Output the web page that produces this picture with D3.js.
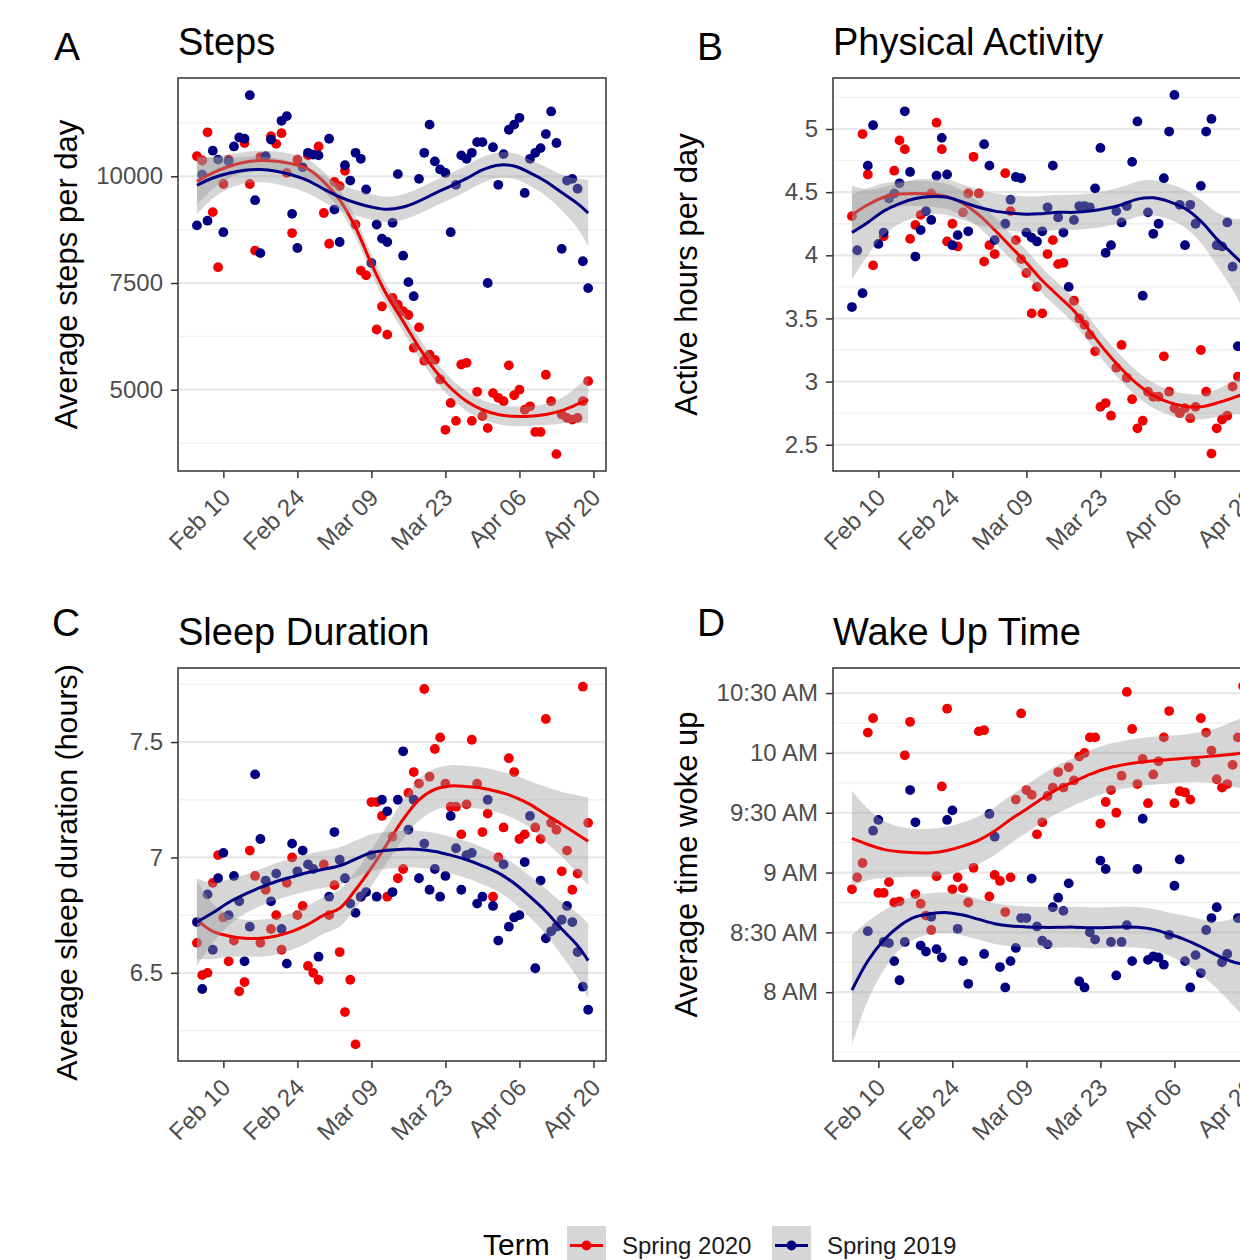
<!DOCTYPE html>
<html>
<head>
<meta charset="utf-8">
<script src="https://cdn.jsdelivr.net/npm/d3@7"></script>
<style>
  body { margin:0; background:#fff; overflow:hidden; }
  text { font-family: "Liberation Sans", Arial, Helvetica, sans-serif; }
</style>
</head>
<body>
<script>
// one value per day, day 0 = Feb 5 2020 ... day 74 = Apr 19 2020 (null = no point visible)
var firstDay = "2020-02-05";
var tickDates = ["2020-02-10","2020-02-24","2020-03-09","2020-03-23","2020-04-06","2020-04-20"];
var terms = ["Spring 2020", "Spring 2019"];

var stepsRed = [10470,10370,11030,9160,7870,9820,10390,null,null,10780,
  9820,8260,10450,null,10940,10760,11010,10080,8670,10390,
  null,10490,null,10700,9140,8420,9870,9770,10130,null,
  8870,7790,7680,null,6410,6950,6290,7150,6990,6840,
  6750,5980,6460,5680,5820,5700,5240,4060,4690,4270,
  5590,5630,4270,4950,4380,4100,4920,4810,4730,5570,
  4870,5000,4530,4610,4010,4010,5350,4730,3490,4420,
  4340,4300,4340,4730,5200];
var stepsBlue = [8850,10040,8960,10600,10390,8690,10350,10700,10910,10880,
  11900,9440,8200,10470,10860,null,11300,11410,9120,8320,
  10210,10550,10510,10490,null,10880,9220,8460,10260,9900,
  10550,10410,9690,7970,8870,8540,8460,8910,10050,8140,
  7520,7190,9940,10550,11210,10350,10160,10080,8690,9800,
  10490,10410,10550,10800,10800,7500,10680,9800,10520,11090,
  11210,11370,9610,10410,10550,10660,10990,11520,10780,8300,
  9900,9940,9710,8010,7380];

var activeRed = [4.31,null,4.96,4.64,3.92,null,4.15,null,4.67,4.91,
  4.84,4.13,4.24,4.32,null,4.49,5.05,4.84,4.11,4.25,
  4.07,4.34,4.49,4.78,4.49,3.95,4.08,4.01,null,4.65,
  4.35,4.12,3.97,3.86,3.54,3.75,3.54,4.01,4.12,3.93,
  3.94,null,3.64,3.50,3.45,3.37,3.24,2.80,2.83,2.73,
  3.11,3.29,3.03,2.86,2.63,2.69,2.92,2.88,2.88,3.20,
  2.92,2.79,2.75,2.79,2.71,2.80,3.25,2.92,2.43,2.63,
  2.70,2.73,2.96,3.04,null];
var activeBlue = [3.59,4.04,3.70,4.71,5.03,4.09,4.18,4.45,4.49,4.57,
  5.14,4.66,3.99,4.20,4.35,4.28,4.63,4.93,4.64,4.08,
  4.16,null,4.19,null,null,4.88,4.71,4.12,null,4.25,
  4.44,4.62,4.61,4.18,4.14,4.11,4.19,4.38,4.71,4.30,
  4.18,3.75,4.28,4.39,4.39,4.38,4.53,4.85,4.02,4.08,
  4.35,4.26,4.39,4.74,5.06,3.68,4.34,4.17,4.25,4.61,
  4.98,5.27,4.40,4.08,4.40,4.25,4.55,4.98,5.08,4.08,
  4.07,4.26,3.91,3.28,null];

var sleepRed = [6.63,6.49,6.50,6.89,7.01,6.74,6.55,6.64,6.42,6.46,
  7.03,6.92,6.63,6.86,6.69,6.75,6.60,6.89,7.00,6.75,
  6.79,6.53,6.50,6.47,6.97,6.75,6.88,6.59,6.33,6.47,
  6.19,6.83,null,7.24,7.24,7.18,6.83,7.09,6.91,6.95,
  7.28,7.37,7.32,7.73,7.35,7.47,7.52,7.32,7.22,7.22,
  7.10,7.23,7.51,7.32,7.11,7.19,6.83,7.00,7.13,7.43,
  7.37,7.08,7.10,null,7.13,7.08,7.60,7.15,7.12,6.94,
  7.03,6.86,6.93,7.74,7.15];
var sleepBlue = [6.72,6.43,6.84,6.60,6.91,7.02,6.75,6.92,6.81,6.55,
  6.70,7.36,7.08,6.90,6.81,6.93,6.69,6.54,7.06,6.94,
  7.03,6.97,6.95,6.57,null,6.83,7.11,6.99,6.91,6.80,
  6.76,6.83,6.85,7.01,6.83,7.25,7.20,6.85,7.25,7.46,
  7.12,7.25,6.91,7.06,6.86,6.95,6.83,6.92,7.18,7.04,
  6.86,7.01,7.02,6.80,6.83,7.25,6.79,6.64,6.97,6.70,
  6.74,6.75,6.98,7.18,6.52,6.90,6.65,6.68,6.70,6.73,
  6.79,6.72,6.59,6.44,6.34];

// wake up time in hours (9.5 = 9:30 AM)
var wakeRed = [8.86,8.96,9.08,10.17,10.29,8.83,8.83,8.92,8.75,8.76,
  9.98,10.26,8.82,8.74,8.64,8.52,8.97,9.72,10.37,8.86,
  8.96,8.87,8.75,9.04,10.18,10.19,8.80,8.98,8.93,8.67,
  8.96,9.61,10.33,9.69,9.65,9.32,9.42,9.64,9.71,9.84,
  9.71,9.88,9.77,9.97,10.00,10.13,10.13,9.41,9.59,9.69,
  9.50,9.81,10.51,10.20,9.74,9.95,9.58,9.82,9.93,10.13,
  10.35,9.58,9.68,9.67,9.61,9.92,10.29,10.17,10.02,9.78,
  9.71,9.74,9.90,10.13,10.56];
var wakeBlue = [null,null,null,8.51,9.35,9.44,8.42,8.41,8.26,8.10,
  8.42,9.69,9.42,8.39,8.34,8.63,8.36,8.29,9.44,9.52,
  8.53,8.26,8.07,null,null,8.32,9.49,9.30,8.21,8.04,
  8.26,8.37,8.62,8.62,8.95,8.55,8.43,8.40,8.71,8.79,
  8.68,8.91,null,8.09,8.04,8.50,8.44,9.10,9.03,8.42,
  8.14,8.42,8.56,8.26,9.03,9.45,8.27,8.30,8.29,8.23,
  8.48,8.89,9.11,8.26,8.04,8.31,8.16,8.52,8.62,8.71,
  8.25,8.32,null,8.62,null];

// loess fits: fit and half width of the grey band
var smoothDays = [0,3,6,9,12,15,18,21,24,27,30,33,36,39,42,45,48,51,54,57,60,63,66,69,72,74];

var stepsRedFit = [9880,10080,10230,10330,10370,10350,10290,10170,9870,9450,8800,7950,7200,6600,5990,5460,5040,4730,4530,4420,4375,4380,4420,4510,4660,4770];
var stepsRedHw = [550,380,280,240,230,230,230,230,230,230,230,230,230,230,230,230,230,230,230,230,230,230,250,300,420,560];
var stepsBlueFit = [9790,9960,10070,10140,10160,10120,10030,9900,9700,9520,9380,9280,9225,9280,9420,9600,9770,9950,10150,10260,10240,10080,9880,9620,9360,9140];
var stepsBlueHw = [680,480,360,310,300,300,300,300,300,300,300,300,300,300,300,300,300,300,300,300,300,310,340,420,580,780];

var activeRedFit = [4.32,4.40,4.46,4.485,4.49,4.485,4.465,4.41,4.32,4.20,4.07,3.94,3.80,3.68,3.56,3.40,3.24,3.10,2.98,2.89,2.835,2.805,2.80,2.83,2.87,2.90];
var activeRedHw = [0.16,0.13,0.11,0.1,0.1,0.1,0.1,0.1,0.1,0.1,0.1,0.1,0.1,0.1,0.1,0.1,0.1,0.1,0.1,0.1,0.1,0.1,0.1,0.11,0.13,0.16];
var activeBlueFit = [4.18,4.26,4.35,4.41,4.45,4.465,4.46,4.42,4.38,4.35,4.335,4.325,4.33,4.34,4.34,4.35,4.37,4.40,4.445,4.455,4.425,4.37,4.27,4.13,4.01,3.93];
var activeBlueHw = [0.37,0.26,0.19,0.16,0.15,0.14,0.14,0.14,0.14,0.14,0.14,0.14,0.14,0.14,0.14,0.14,0.14,0.14,0.14,0.14,0.14,0.15,0.17,0.21,0.28,0.36];

var sleepRedFit = [6.73,6.68,6.66,6.65,6.65,6.66,6.68,6.71,6.75,6.78,6.86,6.955,7.06,7.165,7.25,7.295,7.31,7.307,7.30,7.285,7.263,7.23,7.186,7.144,7.10,7.07];
var sleepRedHw = [0.17,0.12,0.09,0.08,0.08,0.08,0.08,0.08,0.08,0.08,0.08,0.08,0.08,0.085,0.09,0.09,0.09,0.09,0.09,0.09,0.095,0.1,0.12,0.14,0.17,0.19];
var sleepBlueFit = [6.72,6.76,6.805,6.84,6.87,6.896,6.916,6.935,6.949,6.964,6.993,7.021,7.031,7.036,7.035,7.026,7.01,6.99,6.964,6.933,6.888,6.83,6.766,6.69,6.618,6.553];
var sleepBlueHw = [0.19,0.13,0.1,0.085,0.08,0.08,0.08,0.08,0.08,0.08,0.08,0.08,0.08,0.08,0.08,0.08,0.08,0.08,0.08,0.08,0.085,0.09,0.1,0.115,0.14,0.16];

var wakeRedFit = [9.285,9.235,9.194,9.174,9.166,9.166,9.185,9.221,9.271,9.347,9.444,9.53,9.62,9.70,9.76,9.82,9.868,9.898,9.92,9.935,9.945,9.955,9.965,9.977,9.99,10.0];
var wakeRedHw = [0.4,0.3,0.24,0.21,0.2,0.2,0.2,0.2,0.2,0.2,0.2,0.2,0.2,0.2,0.2,0.2,0.2,0.2,0.2,0.2,0.2,0.2,0.21,0.23,0.27,0.3];
var wakeBlueFit = [8.017,8.261,8.434,8.554,8.629,8.657,8.665,8.645,8.609,8.573,8.554,8.546,8.542,8.542,8.544,8.538,8.54,8.545,8.542,8.525,8.485,8.44,8.38,8.31,8.255,8.234];
var wakeBlueHw = [0.46,0.33,0.25,0.2,0.18,0.17,0.17,0.17,0.17,0.17,0.17,0.17,0.17,0.17,0.17,0.17,0.17,0.17,0.17,0.17,0.18,0.2,0.23,0.28,0.36,0.43];

// axis breaks
var stepsTicks = [5000,7500,10000], stepsMinor = [3750,6250,8750,11250];
var activeTicks = [2.5,3,3.5,4,4.5,5], activeMinor = [2.75,3.25,3.75,4.25,4.75,5.25];
var sleepTicks = [6.5,7,7.5], sleepMinor = [6.25,6.75,7.25,7.75];
var wakeTicks = [8,8.5,9,9.5,10,10.5], wakeMinor = [7.5,7.75,8.25,8.75,9.25,9.75,10.25];

var redCol = "#f00000", blueCol = "#000080";
var panelW = 428, panelH = 393;
var parseDay = d3.utcParse("%Y-%m-%d");
var day0 = parseDay(firstDay);
var xDomain = [d3.utcHour.offset(day0, -86), d3.utcHour.offset(day0, 77.4*24)];

var svg = d3.select("body").append("svg")
    .attr("width", 1240)
    .attr("height", 1260);

function dayDate(i){
  return d3.utcHour.offset(day0, i*24);
}

function hourLabel(v){
  var h = Math.floor(v), m = Math.round((v - h)*60);
  return h + (m ? ":" + (m < 10 ? "0" + m : m) : "") + " AM";
}

var panels = [
  {tag:"A", title:"Steps", ytitle:"Average steps per day", left:178, top:78, ytx:77, tagX:54, tagY:60, ytSize:31, ytShift:0,
   red:stepsRed, blue:stepsBlue, redFit:stepsRedFit, redHw:stepsRedHw, blueFit:stepsBlueFit, blueHw:stepsBlueHw,
   yDomain:[3095,12303], ticks:stepsTicks, minor:stepsMinor, fmt:d3.format("d")},
  {tag:"B", title:"Physical Activity", ytitle:"Active hours per day", left:833, top:78, ytx:697, tagX:697, tagY:60, ytSize:31, ytShift:0,
   red:activeRed, blue:activeBlue, redFit:activeRedFit, redHw:activeRedHw, blueFit:activeBlueFit, blueHw:activeBlueHw,
   yDomain:[2.292,5.404], ticks:activeTicks, minor:activeMinor, fmt:function(v){ return String(v); }},
  {tag:"C", title:"Sleep Duration", ytitle:"Average sleep duration (hours)", left:178, top:668, ytx:77, tagX:52, tagY:636, ytSize:30.4, ytShift:8,
   red:sleepRed, blue:sleepBlue, redFit:sleepRedFit, redHw:sleepRedHw, blueFit:sleepBlueFit, blueHw:sleepBlueHw,
   yDomain:[6.118,7.821], ticks:sleepTicks, minor:sleepMinor, fmt:function(v){ return String(v); }},
  {tag:"D", title:"Wake Up Time", ytitle:"Average time woke up", left:833, top:668, ytx:697, tagX:697, tagY:636, ytSize:31, ytShift:0,
   red:wakeRed, blue:wakeBlue, redFit:wakeRedFit, redHw:wakeRedHw, blueFit:wakeBlueFit, blueHw:wakeBlueHw,
   yDomain:[7.425,10.71], ticks:wakeTicks, minor:wakeMinor, fmt:hourLabel}
];

panels.forEach(drawPanel);

function drawPanel(p){
  var x = d3.scaleUtc().domain(xDomain).range([p.left, p.left + panelW]);
  var y = d3.scaleLinear().domain(p.yDomain).range([p.top + panelH, p.top]);
  var g = svg.append("g");

  g.append("clipPath").attr("id", "clip" + p.tag)
    .append("rect")
    .attr("x", p.left).attr("y", p.top)
    .attr("width", panelW).attr("height", panelH);

  // gridlines, horizontal only
  g.selectAll("line.minor").data(p.minor).enter().append("line")
    .attr("class", "minor")
    .attr("x1", p.left).attr("x2", p.left + panelW)
    .attr("y1", function(d){ return y(d); }).attr("y2", function(d){ return y(d); })
    .attr("stroke", "#f0f0f0").attr("stroke-width", 1.3);
  g.selectAll("line.major").data(p.ticks).enter().append("line")
    .attr("class", "major")
    .attr("x1", p.left).attr("x2", p.left + panelW)
    .attr("y1", function(d){ return y(d); }).attr("y2", function(d){ return y(d); })
    .attr("stroke", "#e8e8e8").attr("stroke-width", 2.2);

  var plot = g.append("g").attr("clip-path", "url(#clip" + p.tag + ")");

  // points first, smooth goes over them
  [[p.red, redCol], [p.blue, blueCol]].forEach(function(s){
    var pts = s[0].map(function(v, i){ return {day:i, v:v}; })
      .filter(function(d){ return d.v !== null; });
    plot.append("g").selectAll("circle").data(pts).enter().append("circle")
      .attr("cx", function(d){ return x(dayDate(d.day)); })
      .attr("cy", function(d){ return y(d.v); })
      .attr("r", 4.9)
      .attr("fill", s[1]);
  });

  var area = d3.area()
    .x(function(d){ return x(dayDate(d.day)); })
    .y0(function(d){ return y(d.fit - d.hw); })
    .y1(function(d){ return y(d.fit + d.hw); })
    .curve(d3.curveCatmullRom);
  var line = d3.line()
    .x(function(d){ return x(dayDate(d.day)); })
    .y(function(d){ return y(d.fit); })
    .curve(d3.curveCatmullRom);

  [[p.redFit, p.redHw, redCol], [p.blueFit, p.blueHw, blueCol]].forEach(function(s){
    var sm = smoothDays.map(function(d, i){ return {day:d, fit:s[0][i], hw:s[1][i]}; });
    plot.append("path").datum(sm)
      .attr("d", area)
      .attr("fill", "#999999").attr("fill-opacity", 0.4);
    plot.append("path").datum(sm)
      .attr("d", line)
      .attr("fill", "none")
      .attr("stroke", s[2]).attr("stroke-width", 3);
  });

  // panel border
  g.append("rect")
    .attr("x", p.left).attr("y", p.top)
    .attr("width", panelW).attr("height", panelH)
    .attr("fill", "none").attr("stroke", "#333").attr("stroke-width", 1.5);

  // x axis
  var xa = g.append("g")
    .attr("transform", "translate(0," + (p.top + panelH) + ")")
    .call(d3.axisBottom(x)
      .tickValues(tickDates.map(parseDay))
      .tickFormat(d3.utcFormat("%b %d"))
      .tickSize(7));
  xa.select(".domain").remove();
  xa.selectAll(".tick line").attr("stroke", "#333").attr("stroke-width", 1.5);
  xa.selectAll(".tick text")
    .attr("x", 0).attr("y", 0).attr("dy", 0)
    .attr("transform", "translate(8,28) rotate(-45)")
    .attr("text-anchor", "end")
    .attr("font-size", 24)
    .attr("font-family", null)
    .attr("fill", "#4d4d4d");

  // y axis
  var ya = g.append("g")
    .attr("transform", "translate(" + p.left + ",0)")
    .call(d3.axisLeft(y).tickValues(p.ticks).tickFormat(p.fmt).tickSize(7).tickPadding(8));
  ya.select(".domain").remove();
  ya.selectAll(".tick line").attr("stroke", "#333").attr("stroke-width", 1.5);
  ya.selectAll(".tick text")
    .attr("font-size", 24)
    .attr("font-family", null)
    .attr("fill", "#4d4d4d");

  // titles
  svg.append("text")
    .attr("transform", "translate(" + p.ytx + "," + (p.top + panelH/2 + p.ytShift) + ") rotate(-90)")
    .attr("text-anchor", "middle")
    .attr("font-size", p.ytSize)
    .text(p.ytitle);
  svg.append("text")
    .attr("x", p.left).attr("y", p.top - 23)
    .attr("font-size", 38)
    .text(p.title);
  svg.append("text")
    .attr("x", p.tagX).attr("y", p.tagY)
    .attr("font-size", 39)
    .text(p.tag);
}

// legend
var legend = svg.append("g");
legend.append("text")
  .attr("x", 483).attr("y", 1255)
  .attr("font-size", 30)
  .text("Term");
var keyX = [567, 772];
terms.forEach(function(t, i){
  var k = legend.append("g").attr("transform", "translate(" + keyX[i] + ",1226)");
  k.append("rect").attr("width", 39).attr("height", 39)
    .attr("fill", "#999999").attr("fill-opacity", 0.4);
  var c = i === 0 ? redCol : blueCol;
  k.append("line").attr("x1", 3).attr("x2", 36).attr("y1", 19.5).attr("y2", 19.5)
    .attr("stroke", c).attr("stroke-width", 3);
  k.append("circle").attr("cx", 19.5).attr("cy", 19.5).attr("r", 4.9).attr("fill", c);
  legend.append("text")
    .attr("x", keyX[i] + 55).attr("y", 1254)
    .attr("font-size", 24)
    .attr("fill", "#1a1a1a")
    .text(t);
});
</script>
</body>
</html>
